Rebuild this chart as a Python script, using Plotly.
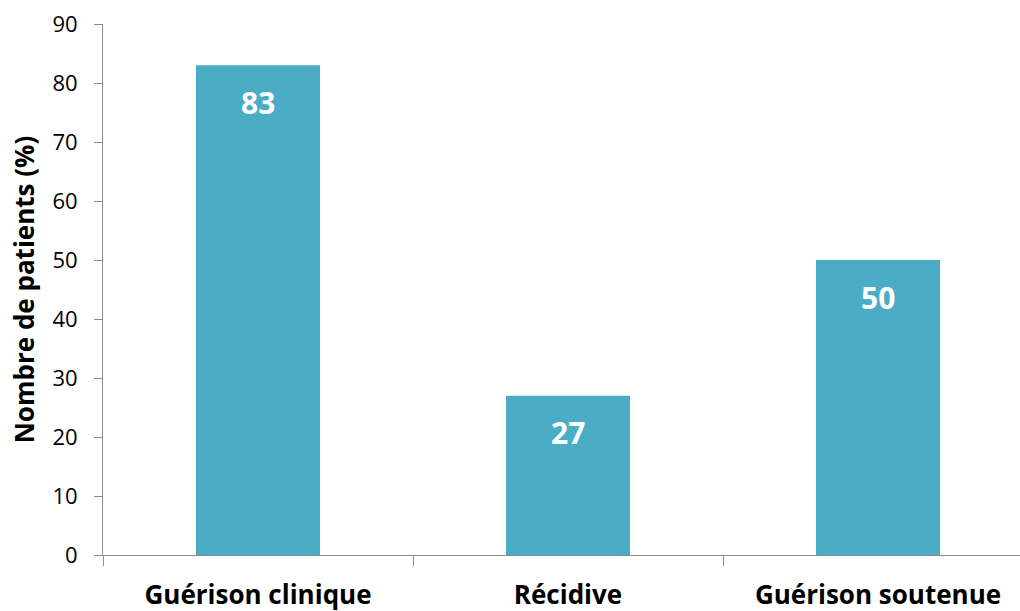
import plotly.graph_objects as go

categories = ["Guérison clinique", "Récidive", "Guérison soutenue"]
values = [83, 27, 50]
y_ticks = [0, 10, 20, 30, 40, 50, 60, 70, 80, 90]

BAR = "#4BACC6"
AXIS = "#8C8C8C"
FONT = "Open Sans"

fig = go.Figure()
fig.add_trace(go.Bar(
    x=categories, y=values, marker=dict(color=BAR, line=dict(width=0)),
    width=0.4, hoverinfo="skip",
))
for c, v in zip(categories, values):
    fig.add_annotation(x=c, y=v, text=f"<b>{v}</b>", showarrow=False,
                       yanchor="middle", yshift=-37,
                       font=dict(family=FONT, size=30, color="white"))

fig.update_layout(
    width=1020, height=611,
    margin=dict(l=103, r=0, t=24, b=55.5),
    plot_bgcolor="white", paper_bgcolor="white",
    showlegend=False,
    font=dict(family=FONT, color="black"),
    xaxis=dict(
        type="category", range=[-0.5, 2.458],
        showline=True, linecolor=AXIS, linewidth=1,
        ticks="outside", ticklen=10, tickcolor=AXIS, tickwidth=1,
        tickson="boundaries", showgrid=False, zeroline=False,
        ticklabelstandoff=17,
        tickfont=dict(family=FONT, size=26, color="black", weight="bold"),
    ),
    yaxis=dict(
        range=[0, 90], tickvals=y_ticks,
        showline=True, linecolor=AXIS, linewidth=1,
        ticks="outside", ticklen=8, tickcolor=AXIS, tickwidth=1,
        showgrid=False, zeroline=False,
        ticklabelstandoff=12,
        tickfont=dict(family=FONT, size=22, color="black"),
        title=dict(text="<b>Nombre de patients (%)</b>", standoff=10,
                   font=dict(family=FONT, size=26, color="black")),
    ),
)

fig.write_html("out.html")
